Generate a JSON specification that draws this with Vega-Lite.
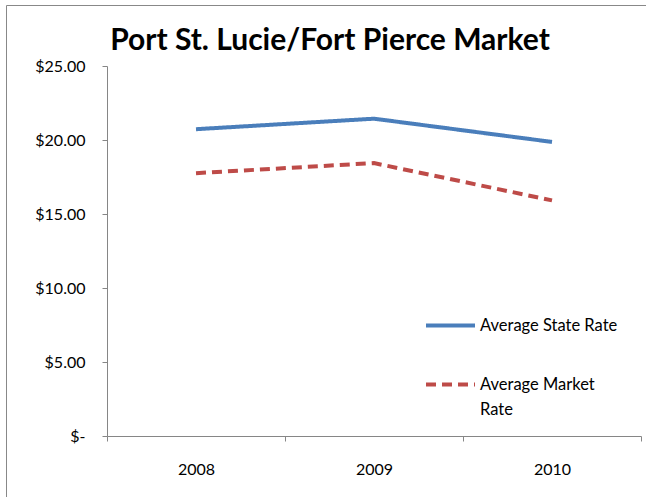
{
  "$schema": "https://vega.github.io/schema/vega-lite/v6.json",
  "autosize": "none",
  "padding": {"left": 6, "top": 5, "right": 0, "bottom": 0},
  "width": 640,
  "height": 492,
  "background": "white",
  "title": {
    "text": "Port St. Lucie/Fort Pierce Market",
    "font": "Lato",
    "fontSize": 30,
    "fontWeight": "bold",
    "color": "#000000",
    "anchor": "middle",
    "frame": "group",
    "baseline": "alphabetic",
    "offset": -44,
    "dy": 31,
    "dx": 4
  },
  "data": {
    "values": [
      {"year": "2008", "series": "Average State Rate", "rate": 20.73},
      {"year": "2009", "series": "Average State Rate", "rate": 21.44},
      {"year": "2010", "series": "Average State Rate", "rate": 19.87},
      {"year": "2008", "series": "Average Market Rate", "rate": 17.76},
      {"year": "2009", "series": "Average Market Rate", "rate": 18.44},
      {"year": "2010", "series": "Average Market Rate", "rate": 15.92}
    ]
  },
  "mark": {"type": "line", "strokeWidth": 4, "strokeCap": "butt"},
  "encoding": {
    "x": {
      "field": "year",
      "type": "nominal",
      "scale": {"type": "band", "range": [101, 635], "paddingInner": 0, "paddingOuter": 0},
      "axis": {
        "title": null,
        "orient": "bottom",
        "offset": -61,
        "labelAngle": 0,
        "tickBand": "extent",
        "tickSize": 5,
        "labelPadding": 20,
        "domainColor": "#868686",
        "tickColor": "#868686",
        "labelFont": "Lato",
        "labelFontSize": 16,
        "labelColor": "#000000",
        "grid": false
      }
    },
    "y": {
      "field": "rate",
      "type": "quantitative",
      "scale": {"domain": [0, 25], "range": [431, 61], "nice": false, "zero": true},
      "axis": {
        "title": null,
        "orient": "left",
        "offset": -101,
        "values": [0, 5, 10, 15, 20, 25],
        "labelExpr": "datum.value == 0 ? '$-\u00a0\u00a0' : '$' + format(datum.value, '.2f')",
        "tickSize": 5,
        "labelPadding": 17,
        "domainColor": "#868686",
        "tickColor": "#868686",
        "labelFont": "Lato",
        "labelFontSize": 16,
        "labelColor": "#000000",
        "grid": false
      }
    },
    "color": {
      "field": "series",
      "type": "nominal",
      "scale": {"domain": ["Average State Rate", "Average Market Rate"], "range": ["#4A7EBB", "#BE4B48"]},
      "legend": {
        "title": null,
        "orient": "none",
        "legendX": 418,
        "legendY": 294,
        "padding": 0,
        "symbolType": "stroke",
        "symbolSize": 2401,
        "symbolStrokeWidth": 4,
        "labelFont": "Lato",
        "labelFontSize": 16.5,
        "labelColor": "#000000",
        "labelOffset": 3,
        "rowPadding": 24,
        "labelExpr": "datum.label == 'Average Market Rate' ? ['Average Market', 'Rate'] : datum.label",
        "encode": {"labels": {"update": {"lineHeight": {"value": 25}}}}
      }
    },
    "strokeDash": {
      "field": "series",
      "type": "nominal",
      "scale": {"domain": ["Average State Rate", "Average Market Rate"], "range": [[1, 0], [10, 6]]},
      "legend": null
    }
  },
  "config": {
    "view": {"stroke": "#888888", "strokeWidth": 1}
  }
}
